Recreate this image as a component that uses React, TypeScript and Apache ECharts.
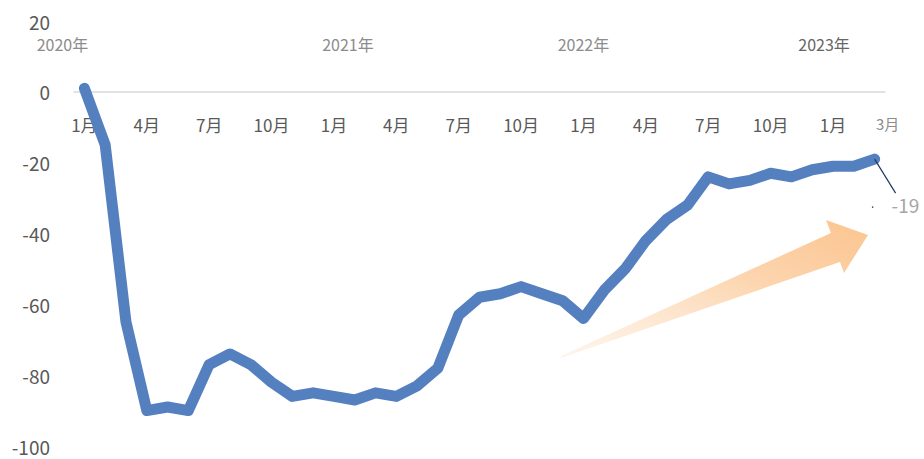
import React, { useEffect, useRef } from "react";
import * as echarts from "echarts";

const categories = [
  "2020/1", "2020/2", "2020/3", "2020/4", "2020/5", "2020/6", "2020/7", "2020/8", "2020/9", "2020/10", "2020/11", "2020/12",
  "2021/1", "2021/2", "2021/3", "2021/4", "2021/5", "2021/6", "2021/7", "2021/8", "2021/9", "2021/10", "2021/11", "2021/12",
  "2022/1", "2022/2", "2022/3", "2022/4", "2022/5", "2022/6", "2022/7", "2022/8", "2022/9", "2022/10", "2022/11", "2022/12",
  "2023/1", "2023/2", "2023/3",
];

const values = [
  1, -15, -65, -90, -89, -90, -77, -74, -77, -82, -86, -85,
  -86, -87, -85, -86, -83, -78, -63, -58, -57, -55, -57, -59,
  -64, -56, -50, -42, -36, -32, -24, -26, -25, -23, -24, -22,
  -21, -21, -19,
];

const yMin = -100;
const yMax = 20;
const yInterval = 20;

const yearLabels: Record<string, string> = {
  "2020/1": "2020年",
  "2021/1": "2021年",
  "2022/1": "2022年",
  "2023/1": "2023年",
};

const lastValueLabel = "-19";

export default function App() {
  const ref = useRef<HTMLDivElement>(null);

  useEffect(() => {
    document.body.style.margin = "0";
    if (!ref.current) return;
    const chart = echarts.init(ref.current, null, { renderer: "svg" });
    const font = "'Noto Sans CJK JP', 'Noto Sans', sans-serif";
    const lastIdx = categories.length - 1;
    const gridTop = 21;
    const gridBottom = 13;
    const plotH = 459 - gridTop - gridBottom;
    const zeroOffset = -Math.round((plotH * (yMax - 0)) / (yMax - yMin));

    chart.setOption({
      animation: false,
      grid: { left: 74, right: 39, top: gridTop, bottom: gridBottom, containLabel: false, outerBoundsMode: "none" },
      xAxis: [
        {
          type: "category",
          data: categories,
          position: "top",
          offset: zeroOffset,
          boundaryGap: true,
          axisLine: { show: true, onZero: false, lineStyle: { color: "#d9d9d9", width: 1.5 } },
          axisTick: { show: false },
          axisLabel: {
            inside: true,
            interval: (i: number) => i % 3 === 0 || i === lastIdx,
            margin: 24,
            fontFamily: font,
            fontSize: 17,
            color: "#595959",
            formatter: (v: string, i: number) => {
              const m = v.split("/")[1];
              if (i === lastIdx) return "{last|" + m + "月}";
              return m + "月";
            },
            rich: {
              last: { fontSize: 15, color: "#8c8c8c", fontFamily: font, padding: [0, 0, 0, 26] },
            },
          },
          splitLine: { show: false },
        },
        {
          type: "category",
          data: categories,
          position: "top",
          boundaryGap: true,
          axisLine: { show: false, onZero: false },
          axisTick: { show: false },
          axisLabel: {
            inside: true,
            margin: 15,
            interval: (i: number) => i % 12 === 0,
            fontFamily: font,
            fontSize: 16,
            color: "#8c8c8c",
            formatter: (v: string) => {
              const y = yearLabels[v];
              if (!y) return "";
              if (v.startsWith("2020")) return "{a|" + y + "}";
              if (v.startsWith("2021")) return "{b|" + y + "}";
              if (v.startsWith("2023")) return "{d|" + y + "}";
              return "{c|" + y + "}";
            },
            rich: {
              a: { fontSize: 16, color: "#8c8c8c", fontFamily: font, padding: [0, 44, 0, 0] },
              b: { fontSize: 16, color: "#8c8c8c", fontFamily: font, padding: [0, 0, 0, 28] },
              c: { fontSize: 16, color: "#8c8c8c", fontFamily: font },
              d: { fontSize: 16, color: "#666666", fontFamily: font, padding: [0, 18, 0, 0] },
            },
          },
          splitLine: { show: false },
        },
      ],
      yAxis: {
        type: "value",
        min: yMin,
        max: yMax,
        interval: yInterval,
        axisLine: { show: false },
        axisTick: { show: false },
        splitLine: { show: false },
        axisLabel: { margin: 24, fontFamily: font, fontSize: 19, lineHeight: 19, color: "#595959" },
      },
      series: [
        {
          type: "line",
          data: values,
          xAxisIndex: 0,
          yAxisIndex: 0,
          symbol: "none",
          lineStyle: { color: "#5580bf", width: 11, cap: "round", join: "round" },
          z: 3,
        },
      ],
    });

    const [px, py] = chart.convertToPixel({ xAxisIndex: 0, yAxisIndex: 0 }, [lastIdx, values[lastIdx]]);

    chart.setOption({
      graphic: [
        {
          type: "polygon",
          z: 1,
          shape: {
            points: [
              [561, 356],
              [831, 233],
              [826, 220],
              [868, 235],
              [844, 273],
              [840, 262],
              [561, 358],
            ],
          },
          style: {
            fill: new echarts.graphic.LinearGradient(0, 1, 1, 0, [
              { offset: 0, color: "rgba(253, 226, 200, 0.35)" },
              { offset: 0.6, color: "rgba(252, 208, 165, 0.9)" },
              { offset: 1, color: "rgba(251, 196, 143, 1)" },
            ]),
          },
        },
        {
          type: "line",
          z: 5,
          shape: { x1: px, y1: py, x2: px + 21, y2: py + 34 },
          style: { stroke: "#203864", lineWidth: 1.2 },
        },
        {
          type: "circle",
          z: 5,
          shape: { cx: px - 2, cy: py + 48, r: 0.7 },
          style: { fill: "#203864" },
        },
        {
          type: "text",
          z: 5,
          x: px + 17,
          y: py + 36,
          style: {
            text: lastValueLabel,
            fontFamily: font,
            fontSize: 19,
            fill: "#a6a6a6",
          },
        },
      ],
    });

    return () => chart.dispose();
  }, []);

  return <div ref={ref} style={{ width: 924, height: 459 }} />;
}
